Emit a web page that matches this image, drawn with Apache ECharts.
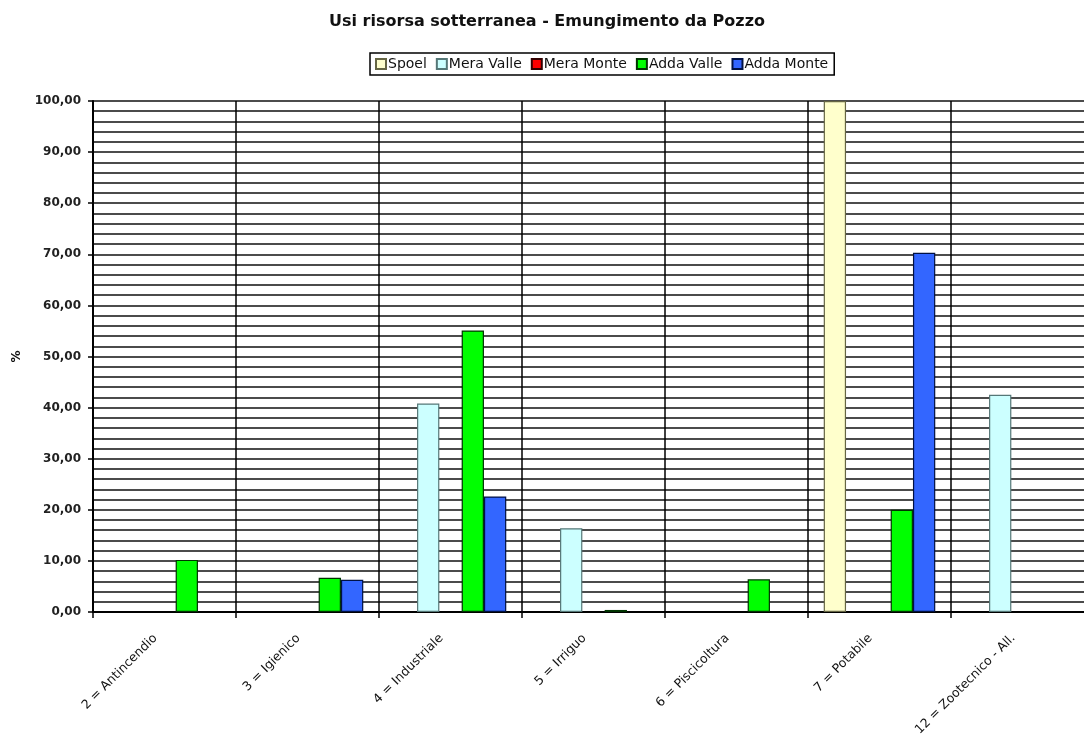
<!DOCTYPE html>
<html>
<head>
<meta charset="utf-8">
<script src="https://cdn.jsdelivr.net/npm/echarts@6/dist/echarts.min.js"></script>
<style>html,body{margin:0;padding:0;background:#fff;overflow:hidden}#c{width:1094px;height:740px}</style>
</head>
<body>
<div id="c"></div>
<script>
const categories = ['2 = Antincendio','3 = Igienico','4 = Industriale','5 = Irriguo','6 = Piscicoltura','7 = Potabile','12 = Zootecnico - All.'];
const spoel     = [null, null, null, null, null, 100, null];
const meraValle = [null, null, 40.8, 16.4, null, null, 42.5];
const meraMonte = [null, null, null, null, null, null, null];
const addaValle = [10.2, 6.7, 55.1, 0.4, 6.4, 20.0, null];
const addaMonte = [null, 6.3, 22.6, null, null, 70.3, null];
const yTicks = [0,10,20,30,40,50,60,70,80,90,100];

const FONT = 'DejaVu Sans';
function mk(name, data, color, border){
  return {name, type:'bar', data, barGap:'0%', barCategoryGap:'22%',
    itemStyle:{color, borderColor:border, borderWidth:1.2}};
}
const chart = echarts.init(document.getElementById('c'), null, {renderer:'canvas'});
chart.setOption({
  animation:false,
  backgroundColor:'#fff',
  textStyle:{fontFamily:FONT},
  title:{text:'Usi risorsa sotterranea - Emungimento da Pozzo', left:'center', top:9,
    textStyle:{fontFamily:FONT, fontSize:16, fontWeight:'bold', color:'#111'}},
  legend:{left:370, top:53, padding:[4,6,4,5], borderColor:'#000', borderWidth:1.5,
    itemWidth:10, itemHeight:10, itemGap:9, icon:'rect',
    textStyle:{fontFamily:FONT, fontSize:14, color:'#111', padding:[0,0,0,-3]}},
  grid:{left:93, right:0, top:101, bottom:128, containLabel:false, outerBoundsMode:'none'},
  xAxis:{type:'category', data:categories,
    axisLine:{lineStyle:{color:'#000', width:2}},
    axisTick:{show:true, length:6, lineStyle:{color:'#000', width:1.5}},
    splitLine:{show:true, lineStyle:{color:'#000', width:1.5}},
    axisLabel:{rotate:45, fontFamily:FONT, fontSize:12.5, color:'#111', margin:15, padding:[0,13,0,0], interval:0}},
  yAxis:{type:'value', min:0, max:100, interval:10,
    name:'%', nameLocation:'middle', nameGap:70, nameRotate:90,
    nameTextStyle:{fontFamily:FONT, fontSize:12, fontWeight:'bold', color:'#111'},
    axisLine:{show:true, lineStyle:{color:'#000', width:2}},
    axisTick:{show:true, length:5, lineStyle:{color:'#000', width:1.5}},
    minorTick:{show:false, splitNumber:5},
    minorSplitLine:{show:true, lineStyle:{color:'#111', width:1.5}},
    splitLine:{show:true, lineStyle:{color:'#111', width:1.5}},
    axisLabel:{fontFamily:FONT, fontSize:12, fontWeight:'bold', color:'#222', margin:12,
      formatter:v => yTicks.includes(v) ? v.toFixed(2).replace('.', ',') : ''}},
  series:[
    mk('Spoel', spoel, '#FFFFCC', '#666644'),
    mk('Mera Valle', meraValle, '#CCFFFF', '#557777'),
    mk('Mera Monte', meraMonte, '#FF0000', '#330000'),
    mk('Adda Valle', addaValle, '#00FF00', '#003300'),
    mk('Adda Monte', addaMonte, '#3366FF', '#001144')
  ]
});
</script>
</body>
</html>
